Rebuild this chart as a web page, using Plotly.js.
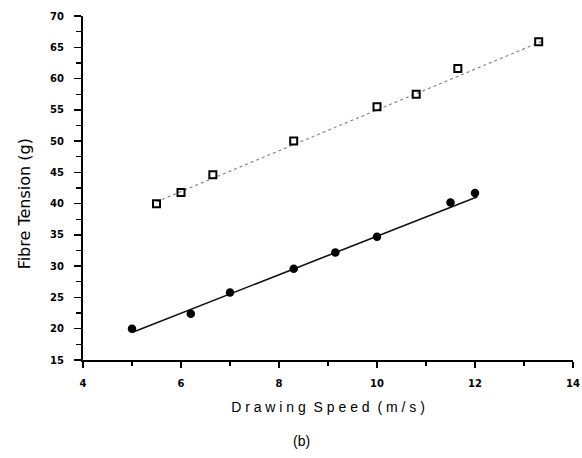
<!DOCTYPE html>
<html>
<head>
<meta charset="utf-8">
<script src="https://cdn.plot.ly/plotly-3.0.1.min.js"></script>
<style>html,body{margin:0;padding:0;background:#fff;}#chart{width:582px;height:458px;}</style>
</head>
<body>
<div id="chart"></div>
<script>
// Filled circles series
var speedFilled = [5.0, 6.2, 7.0, 8.3, 9.15, 10.0, 11.5, 12.0];
var tensionFilled = [20.0, 22.4, 25.8, 29.6, 32.2, 34.7, 40.2, 41.7];
// Open squares series
var speedOpen = [5.5, 6.0, 6.65, 8.3, 10.0, 10.8, 11.65, 13.3];
var tensionOpen = [40.0, 41.8, 44.6, 50.0, 55.5, 57.5, 61.6, 65.9];
// Fitted lines (endpoints)
var fitFilledX = [5.0, 12.05];
var fitFilledY = [19.4, 41.1];
var fitOpenX = [5.5, 13.35];
var fitOpenY = [40.3, 65.9];
// Texts
var xTitle = 'D r a w i n g  S p e e d  ( m / s )';
var yTitle = 'Fibre Tension (g)';
var caption = '(b)';

var traces = [
  {x: fitOpenX, y: fitOpenY, mode: 'lines', line: {color: '#888', width: 1.2, dash: 'dot'}, hoverinfo: 'skip'},
  {x: fitFilledX, y: fitFilledY, mode: 'lines', line: {color: '#111', width: 1.6}, hoverinfo: 'skip'},
  {x: speedOpen, y: tensionOpen, mode: 'markers',
   marker: {symbol: 'square-open', size: 7, color: '#000', line: {width: 2, color: '#000'}}},
  {x: speedFilled, y: tensionFilled, mode: 'markers',
   marker: {symbol: 'circle', size: 8.5, color: '#000'}}
];

var tickFont = {family: 'DejaVu Sans, sans-serif', size: 10, color: '#000', weight: 'bold'};
var layout = {
  width: 582, height: 458,
  margin: {l: 83, r: 9, t: 16, b: 98},
  paper_bgcolor: '#fff', plot_bgcolor: '#fff',
  showlegend: false,
  font: {family: 'Liberation Sans, Arial, sans-serif', color: '#000'},
  xaxis: {
    range: [4, 14], dtick: 2, tick0: 4, showgrid: false, zeroline: false,
    showline: true, linecolor: '#000', linewidth: 2,
    ticks: 'outside', ticklen: 6, tickwidth: 2, tickcolor: '#000',
    minor: {dtick: 1, ticks: 'outside', ticklen: 4, tickwidth: 1.5, tickcolor: '#000'},
    tickfont: tickFont, ticklabelstandoff: 7, ticklabeloverflow: 'allow',
    title: {text: xTitle, font: {size: 14, color: '#000'}, standoff: 14}
  },
  yaxis: {
    range: [15, 70], dtick: 5, tick0: 15, showgrid: false, zeroline: false,
    showline: true, linecolor: '#000', linewidth: 2,
    ticks: 'outside', ticklen: 7, tickwidth: 1.5, tickcolor: '#000',
    minor: {dtick: 2.5, ticks: 'outside', ticklen: 5, tickwidth: 1.2, tickcolor: '#000'},
    tickfont: tickFont, ticklabelstandoff: 8, ticklabeloverflow: 'allow'
  },
  annotations: [
    {text: yTitle, xref: 'paper', yref: 'paper', x: -0.12, y: 0.453, xanchor: 'center', yanchor: 'middle',
     textangle: -90, showarrow: false, font: {family: 'DejaVu Sans, sans-serif', size: 16, color: '#000'}},
    {text: caption, xref: 'paper', yref: 'paper', x: 0.445, y: -0.235, xanchor: 'center', yanchor: 'middle',
     showarrow: false, font: {size: 14, color: '#000'}}
  ]
};
Plotly.newPlot('chart', traces, layout, {displayModeBar: false, staticPlot: true});
</script>
</body>
</html>
